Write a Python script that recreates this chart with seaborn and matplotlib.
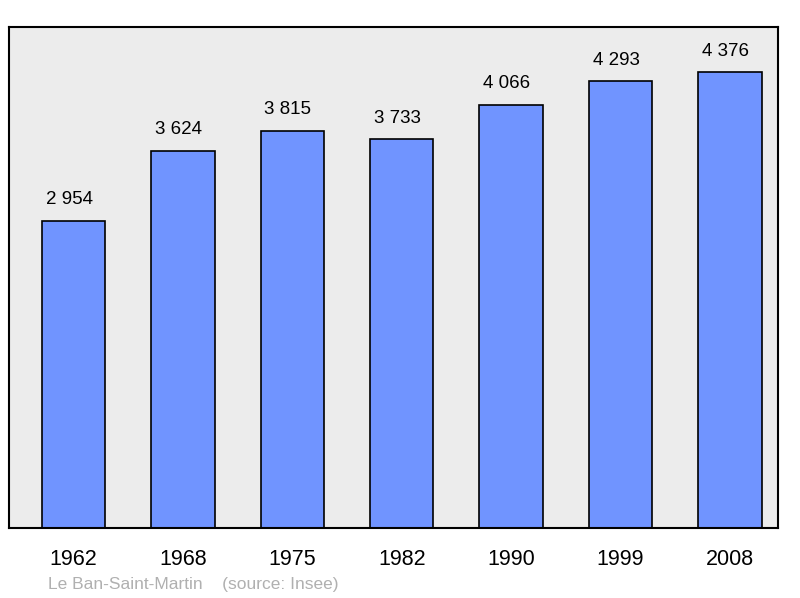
import matplotlib
matplotlib.use("Agg")
import matplotlib.pyplot as plt
import seaborn as sns

years = ["1962", "1968", "1975", "1982", "1990", "1999", "2008"]
population = [2954, 3624, 3815, 3733, 4066, 4293, 4376]
value_labels = ["2 954", "3 624", "3 815", "3 733", "4 066", "4 293", "4 376"]

sns.set_style("white")
plt.rcParams["font.family"] = ["Liberation Sans", "DejaVu Sans"]

fig = plt.figure(figsize=(8, 5.98), dpi=100)
ax = fig.add_axes([9 / 800, 1 - 528 / 598, 769 / 800, 501 / 598])
ax.set_facecolor("#ececec")

sns.barplot(x=years, y=population, color="#7094ff", saturation=1, width=0.58,
            edgecolor="black", linewidth=1.2, ax=ax)

for i, (v, lab) in enumerate(zip(population, value_labels)):
    ax.text(i - 0.04, v + 120, lab, ha="center", va="bottom", fontsize=13.5, color="black")

ax.set_xlim(-0.59, 6.44)
ax.set_ylim(0, 4813)
ax.set_yticks([])
ax.tick_params(axis="x", length=0, labelsize=15.5, pad=15, labelcolor="black")
for s in ax.spines.values():
    s.set_color("black")
    s.set_linewidth(1.5)

fig.text(48 / 800, 1 - 584 / 598, "Le Ban-Saint-Martin    (source: Insee)",
         color="#b0b0b0", fontsize=12.5, va="center")

fig.savefig("out.png", dpi=100)
